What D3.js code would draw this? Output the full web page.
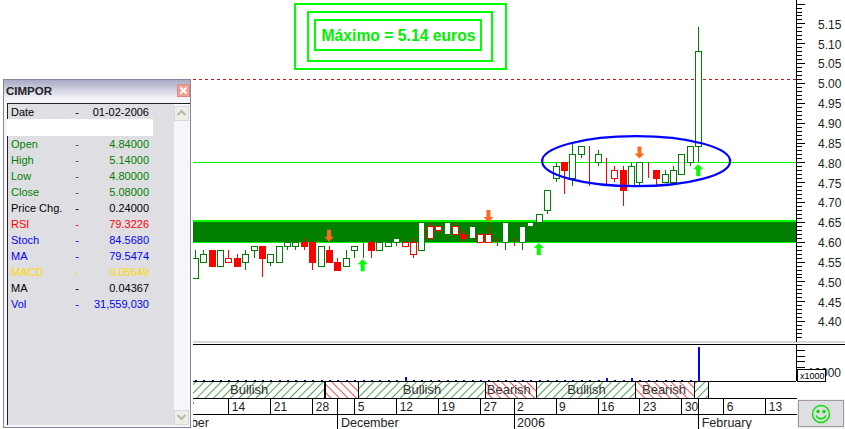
<!DOCTYPE html>
<html lang="en">
<head>
    <meta charset="UTF-8">
    <title>CIMPOR</title>
    <script src="https://d3js.org/d3.v7.min.js"></script>
    <style>
        body { margin: 0; background: white; font-family: "Liberation Sans", Arial, sans-serif; }
        svg { display: block; }
        text { font-family: "Liberation Sans", Arial, sans-serif; }
        .crisp { shape-rendering: crispEdges; }
    </style>
</head>
<body>
    <svg width="845" height="429"></svg>

    <script>
        const opens  = [4.51,4.55,4.58,4.54,4.56,4.56,4.55,4.58,4.59,4.55,4.55,4.59,4.59,4.60,4.60,4.54,4.58,4.55,4.54,4.58,4.59,4.60,4.58,4.59,4.60,4.60,4.60,4.58,4.64,4.64,4.62,4.64,4.62,4.61,4.62,4.62,4.60,4.60,4.59,4.60,4.64,4.65,4.68,4.76,4.80,4.76,4.82,4.81,4.80,4.79,4.78,4.78,4.74,4.75,4.78,4.78,4.75,4.75,4.77,4.80,4.84];
        const highs  = [4.58,4.58,4.58,4.58,4.58,4.57,4.58,4.59,4.59,4.57,4.59,4.60,4.60,4.61,4.60,4.59,4.59,4.56,4.58,4.59,4.60,4.60,4.60,4.60,4.61,4.60,4.61,4.65,4.65,4.64,4.65,4.65,4.63,4.64,4.62,4.64,4.61,4.65,4.61,4.64,4.65,4.67,4.73,4.80,4.80,4.85,4.84,4.84,4.83,4.81,4.79,4.79,4.80,4.80,4.80,4.78,4.78,4.79,4.82,4.84,5.14];
        const lows   = [4.51,4.55,4.54,4.54,4.55,4.54,4.53,4.56,4.51,4.54,4.55,4.58,4.58,4.58,4.53,4.54,4.55,4.53,4.54,4.56,4.56,4.56,4.58,4.59,4.59,4.59,4.56,4.58,4.61,4.62,4.62,4.62,4.60,4.61,4.60,4.60,4.59,4.58,4.59,4.58,4.61,4.60,4.67,4.75,4.72,4.74,4.81,4.74,4.79,4.74,4.75,4.69,4.74,4.74,4.76,4.74,4.75,4.75,4.77,4.79,4.80];
        const closes = [4.56,4.57,4.54,4.58,4.55,4.54,4.57,4.59,4.56,4.57,4.59,4.60,4.60,4.59,4.55,4.59,4.55,4.53,4.56,4.59,4.59,4.58,4.60,4.60,4.61,4.59,4.57,4.65,4.61,4.63,4.65,4.62,4.61,4.64,4.60,4.60,4.60,4.65,4.59,4.64,4.65,4.67,4.73,4.79,4.78,4.82,4.84,4.81,4.82,4.79,4.76,4.73,4.79,4.80,4.78,4.76,4.77,4.78,4.82,4.84,5.08];
        // G = green hollow, R = red filled, O = red hollow
        const candleTypes = ["G","G","R","G","O","R","G","G","R","G","G","G","G","R","R","G","R","R","G","G","G","R","G","G","G","O","O","G","O","O","G","O","R","G","O","O","O","G","O","G","G","G","G","G","R","G","G","R","G","R","O","R","G","G","R","R","G","G","G","G","G"];
        // volume in thousands
        const volumes = [950,950,950,950,950,950,950,950,950,950,950,950,950,950,950,950,950,950,950,950,950,950,950,950,950,3600,950,950,950,950,950,950,950,950,950,950,950,950,950,950,950,950,950,950,950,950,950,950,950,2400,950,950,2600,950,950,950,950,950,950,950,31559];

        const priceLabels = [4.40,4.45,4.50,4.55,4.60,4.65,4.70,4.75,4.80,4.85,4.90,4.95,5.00,5.05,5.10,5.15];
        const priceLongTicks = [4.40,4.45,4.50,4.55,4.60,4.65,4.70,4.75,4.80,4.85,4.90,4.95,5.00,5.05,5.10,5.15,5.20];
        const volumeTicks = [10000, 15000, 20000, 25000, 30000];

        const dayIndex = [-1.3,4,9,14,19,24,29,34,38,43,48,53,58,63,68];
        const dayLabels = ["7","14","21","28","5","12","19","27","2","9","16","23","30","6","13"];
        const monthIndex = [-5.6,17,38,60];
        const monthLabels = ["November","December","2006","February"];

        const signalStart = [-1,15.5,19.45,34.6,40.67,52.47,59.5];
        const signalEnd   = [15.5,19.45,34.6,40.67,52.47,59.5,61.2];
        const signalKind  = ["up","down","up","down","up","down","up"];
        const signalTextIndex = [4.2,24.8,34.8,44.4,53.3];
        const signalTexts = ["Bullish","Bullish","Bearish","Bullish","Bearish"];

        const sellIndex = [16,35,53];
        const sellPrice = [4.60,4.65,4.81];
        const buyIndex = [20,41,60];
        const buyPrice = [4.556,4.597,4.795];

        const panelLabels = ["Open","High","Low","Close","Price Chg.","RSI","Stoch","MA","MACD","MA","Vol"];
        const panelValues = ["4.84000","5.14000","4.80000","5.08000","0.24000","79.3226","84.5680","79.5474","0.05649","0.04367","31,559,030"];
        const panelColors = ["#008000","#008000","#008000","#008000","#000","#f00","#00f","#00f","#ffd700","#000","#00f"];

        const width = 845, height = 429;
        const svg = d3.select("svg");

        const x = d3.scaleLinear().domain([0, 60]).range([194.8, 698.2]);
        const y = d3.scaleLinear().domain([4.35, 5.21]).range([341, -0.4]);
        const yVol = d3.scaleLinear().domain([0, 31559]).range([381, 347]);
        const px = v => Math.round(v) + 0.5;

        const defs = svg.append("defs");
        defs.append("clipPath").attr("id", "plot").append("rect")
            .attr("x", 193).attr("y", 0).attr("width", 603).attr("height", 429);
        function hatch(id, color, angle) {
            const p = defs.append("pattern").attr("id", id)
                .attr("width", 6).attr("height", 6)
                .attr("patternUnits", "userSpaceOnUse")
                .attr("patternTransform", `rotate(${angle})`);
            p.append("line").attr("x1", 0).attr("x2", 0).attr("y1", 0).attr("y2", 6)
                .attr("stroke", color).attr("stroke-width", 1.4);
        }
        hatch("hatchUp", "#008000", 45);
        hatch("hatchDown", "#f00", -45);

        const plot = svg.append("g").attr("clip-path", "url(#plot)");

        // green band
        const band = plot.append("g").attr("class", "crisp");
        band.append("rect").attr("x", 193).attr("width", 603)
            .attr("y", y(4.655)).attr("height", y(4.60) - y(4.655)).attr("fill", "#008000");
        band.append("rect").attr("x", 193).attr("width", 603)
            .attr("y", y(4.655)).attr("height", 2).attr("fill", "#00ff00");
        band.append("rect").attr("x", 193).attr("width", 603)
            .attr("y", y(4.60)).attr("height", 1).attr("fill", "#00ff00");

        // reference lines
        plot.append("line").attr("class", "crisp").attr("x1", 193).attr("x2", 796)
            .attr("y1", px(y(5.01))).attr("y2", px(y(5.01)))
            .attr("stroke", "#d01010").attr("stroke-dasharray", "3,3");
        plot.append("line").attr("class", "crisp").attr("x1", 193).attr("x2", 796)
            .attr("y1", px(y(4.802))).attr("y2", px(y(4.802)))
            .attr("stroke", "#00ff00");

        // candles
        const colorOf = t => t === "G" ? "#008000" : "#f00";
        const candles = plot.append("g").attr("class", "crisp")
            .selectAll("g").data(candleTypes).join("g");
        candles.append("line")
            .attr("x1", (d, i) => px(x(i))).attr("x2", (d, i) => px(x(i)))
            .attr("y1", (d, i) => y(highs[i])).attr("y2", (d, i) => y(lows[i]))
            .attr("stroke", colorOf);
        candles.append("rect")
            .attr("x", (d, i) => px(x(i)) - 3)
            .attr("width", 6)
            .attr("y", (d, i) => px(y(Math.max(opens[i], closes[i]))))
            .attr("height", (d, i) => Math.round(Math.abs(y(opens[i]) - y(closes[i]))))
            .attr("fill", d => d === "R" ? "#f00" : "white")
            .attr("stroke", colorOf);

        // ellipse
        plot.append("ellipse")
            .attr("cx", x(52.6)).attr("cy", y(4.803))
            .attr("rx", x(11.2) - x(0)).attr("ry", y(4.80) - y(4.863))
            .attr("fill", "none").attr("stroke", "#0000ff").attr("stroke-width", 2.2);

        // signal arrows
        const arrowDown = "M-2,-12H2V-5H5L0,0L-5,-5H-2Z";
        const arrowUp = "M-2,12H2V5H5L0,0L-5,5H-2Z";
        plot.selectAll(".sell").data(sellIndex).join("path").attr("class", "sell")
            .attr("d", arrowDown).attr("fill", "#ff6a1a")
            .attr("transform", (d, i) => `translate(${x(d)},${y(sellPrice[i])})`);
        plot.selectAll(".buy").data(buyIndex).join("path").attr("class", "buy")
            .attr("d", arrowUp).attr("fill", "#00ff00")
            .attr("transform", (d, i) => `translate(${x(d)},${y(buyPrice[i])})`);

        // volume
        plot.append("g").attr("class", "crisp").selectAll("rect").data(volumes).join("rect")
            .attr("x", (d, i) => Math.round(x(i)))
            .attr("width", 2)
            .attr("y", d => yVol(d))
            .attr("height", d => 381 - yVol(d))
            .attr("fill", "#0000ff");

        // bullish / bearish strip
        const strip = plot.append("g");
        strip.selectAll("rect").data(signalKind).join("rect")
            .attr("class", "crisp")
            .attr("x", (d, i) => px(x(signalStart[i])))
            .attr("width", (d, i) => Math.round(x(signalEnd[i]) - x(signalStart[i])))
            .attr("y", 381.5).attr("height", 17)
            .attr("fill", d => d === "up" ? "url(#hatchUp)" : "url(#hatchDown)")
            .attr("stroke", "#000");
        strip.selectAll("text").data(signalTexts).join("text")
            .attr("x", (d, i) => x(signalTextIndex[i]))
            .attr("y", 394)
            .attr("font-size", 13).attr("fill", "#333").text(d => d);

        // date axis
        const dayAxis = d3.axisBottom(x).tickValues(dayIndex).tickSize(15).tickSizeOuter(0)
            .tickFormat((d, i) => dayLabels[i]);
        const dayG = plot.append("g").attr("class", "crisp").attr("transform", "translate(0,399)").call(dayAxis);
        dayG.select(".domain").remove();
        dayG.selectAll("text").attr("text-anchor", "start").attr("x", 3).attr("y", 3)
            .attr("dy", "0.71em").attr("font-size", 12).attr("font-family", "Liberation Sans").attr("fill", "#222");
        const monthAxis = d3.axisBottom(x).tickValues(monthIndex).tickSize(30).tickSizeOuter(0)
            .tickFormat((d, i) => monthLabels[i]);
        const monthG = plot.append("g").attr("class", "crisp").attr("transform", "translate(0,399)").call(monthAxis);
        monthG.select(".domain").remove();
        monthG.selectAll("text").attr("text-anchor", "start").attr("x", 3).attr("y", 19)
            .attr("dy", "0.71em").attr("font-size", 12.5).attr("font-family", "Liberation Sans").attr("fill", "#222");

        // frame lines
        const frame = svg.append("g").attr("class", "crisp");
        frame.append("rect").attr("x", 193).attr("y", 341).attr("width", 652).attr("height", 2).attr("fill", "#d8d8d8");
        frame.append("rect").attr("x", 193).attr("y", 344).attr("width", 652).attr("height", 1).attr("fill", "#000");
        frame.append("rect").attr("x", 193).attr("y", 381).attr("width", 603).attr("height", 1).attr("fill", "#000");
        frame.append("rect").attr("x", 193).attr("y", 398).attr("width", 604).attr("height", 1).attr("fill", "#000");
        frame.append("rect").attr("x", 193).attr("y", 414).attr("width", 604).attr("height", 1).attr("fill", "#000");

        // price axis
        const minor = svg.append("g").attr("class", "crisp").attr("transform", "translate(796,0)")
            .call(d3.axisRight(y).tickValues(d3.range(436, 521).map(d => d / 100)).tickSize(6).tickSizeOuter(0).tickFormat(""));
        minor.select(".domain").attr("stroke", "#000");
        svg.append("g").attr("class", "crisp").attr("transform", "translate(796,0)")
            .call(d3.axisRight(y).tickValues(priceLongTicks).tickSize(9).tickSizeOuter(0).tickFormat(""))
            .select(".domain").remove();
        const priceG = svg.append("g").attr("transform", "translate(796,1)")
            .call(d3.axisRight(y).tickValues(priceLabels).tickSize(0).tickPadding(22).tickFormat(d3.format(".2f")));
        priceG.select(".domain").remove();
        priceG.selectAll("text").attr("font-size", 12).attr("font-family", "Liberation Sans").attr("fill", "#222");

        // volume axis
        const yVolAxis = d3.scaleLinear().domain([10000, 30000]).range([372, 350]);
        const volG = svg.append("g").attr("class", "crisp").attr("transform", "translate(796,0)")
            .call(d3.axisRight(yVolAxis).tickValues(volumeTicks).tickSize(9).tickSizeOuter(0).tickFormat(""));
        volG.select(".domain").remove();
        svg.append("line").attr("class", "crisp").attr("x1", 796.5).attr("x2", 796.5).attr("y1", 345).attr("y2", 381).attr("stroke", "#000");
        svg.append("text").attr("x", 841).attr("y", 377).attr("text-anchor", "end")
            .attr("font-size", 12).attr("fill", "#222").text("10000");
        svg.append("rect").attr("class", "crisp").attr("x", 797.5).attr("y", 369.5).attr("width", 28).attr("height", 12)
            .attr("fill", "white").attr("stroke", "#000");
        svg.append("text").attr("x", 800).attr("y", 379).attr("font-size", 9).attr("fill", "#000").text("x1000");

        // smiley button
        const btn = svg.append("g");
        btn.append("rect").attr("class", "crisp").attr("x", 797).attr("y", 399).attr("width", 48).attr("height", 30).attr("fill", "#f0f0f2");
        btn.append("rect").attr("class", "crisp").attr("x", 798.5).attr("y", 400.5).attr("width", 45).attr("height", 26)
            .attr("fill", "#dfdfe3").attr("stroke", "#9a9a9a").attr("stroke-width", 1.5);
        const face = btn.append("g").attr("transform", "translate(821,414)")
            .attr("fill", "none").attr("stroke", "#00e000").attr("stroke-width", 1.4);
        face.append("circle").attr("r", 8.5);
        face.append("circle").attr("cx", -3).attr("cy", -2.5).attr("r", 1).attr("fill", "#00e000");
        face.append("circle").attr("cx", 3).attr("cy", -2.5).attr("r", 1).attr("fill", "#00e000");
        face.append("path").attr("d", "M-5,1.5A5.5,5.5 0 0 0 5,1.5");

        // title boxes
        const boxX = [295, 308, 315], boxW = [211, 184, 166], boxY = [4, 12, 20], boxH = [65, 49, 30];
        svg.append("g").attr("class", "crisp").selectAll("rect").data(boxX).join("rect")
            .attr("x", d => d).attr("y", (d, i) => boxY[i])
            .attr("width", (d, i) => boxW[i]).attr("height", (d, i) => boxH[i])
            .attr("fill", "none").attr("stroke", "#00ff00").attr("stroke-width", 2);
        svg.append("text").attr("x", 398.5).attr("y", 41).attr("text-anchor", "middle")
            .attr("font-size", 15.7).attr("font-weight", "bold").attr("fill", "#00f000")
            .text("Máximo = 5.14 euros");

        // data window
        const win = svg.append("g");
        const grad = defs.append("linearGradient").attr("id", "titleBar").attr("x1", 0).attr("x2", 0).attr("y1", 0).attr("y2", 1);
        grad.append("stop").attr("offset", "0%").attr("stop-color", "#a9a9c4");
        grad.append("stop").attr("offset", "100%").attr("stop-color", "#f6f6fa");
        win.append("rect").attr("class", "crisp").attr("x", 3.5).attr("y", 79.5).attr("width", 187).attr("height", 348)
            .attr("fill", "#f5f5fa").attr("stroke", "#85859f");
        win.append("rect").attr("class", "crisp").attr("x", 4).attr("y", 80).attr("width", 186).attr("height", 19).attr("fill", "url(#titleBar)");
        win.append("text").attr("x", 6).attr("y", 95).attr("font-size", 11.5).attr("font-weight", "bold").attr("fill", "#222").text("CIMPOR");
        win.append("rect").attr("class", "crisp").attr("x", 177.5).attr("y", 84.5).attr("width", 12).attr("height", 12)
            .attr("fill", "#f0a096").attr("stroke", "#d88");
        win.append("path").attr("d", "M180.5,87.5L186.5,93.5M186.5,87.5L180.5,93.5").attr("stroke", "white").attr("stroke-width", 2);
        win.append("rect").attr("class", "crisp").attr("x", 7).attr("y", 103).attr("width", 167).attr("height", 322).attr("fill", "#dfdfe3");
        win.append("rect").attr("class", "crisp").attr("x", 7).attr("y", 103).attr("width", 183).attr("height", 1).attr("fill", "#222");
        win.append("rect").attr("class", "crisp").attr("x", 7).attr("y", 103).attr("width", 1).attr("height", 322).attr("fill", "#222");
        win.append("rect").attr("class", "crisp").attr("x", 7).attr("y", 119).attr("width", 146).attr("height", 17).attr("fill", "white");
        win.selectAll(".scrollBtn").data([106, 410]).join("rect").attr("class", "scrollBtn crisp")
            .attr("x", 174.5).attr("y", d => d + 0.5).attr("width", 14).attr("height", 14)
            .attr("fill", "#eeeeea").attr("stroke", "#d8d8d0");
        win.append("path").attr("d", "M177.5,115L181.5,111L185.5,115").attr("fill", "none").attr("stroke", "#b8b8a8").attr("stroke-width", 2);
        win.append("path").attr("d", "M177.5,415L181.5,419L185.5,415").attr("fill", "none").attr("stroke", "#b8b8a8").attr("stroke-width", 2);

        function panelRow(label, value, color, rowY) {
            const g = win.append("g").attr("font-size", 11).attr("fill", color);
            g.append("text").attr("x", 11).attr("y", rowY).text(label);
            g.append("text").attr("x", 77).attr("y", rowY).attr("text-anchor", "middle").text("-");
            g.append("text").attr("x", 149).attr("y", rowY).attr("text-anchor", "end").text(value);
        }
        panelRow("Date", "01-02-2006", "#000", 116);
        panelLabels.forEach((d, i) => panelRow(d, panelValues[i], panelColors[i], 148 + i * 16));
    </script>
</body>
</html>
